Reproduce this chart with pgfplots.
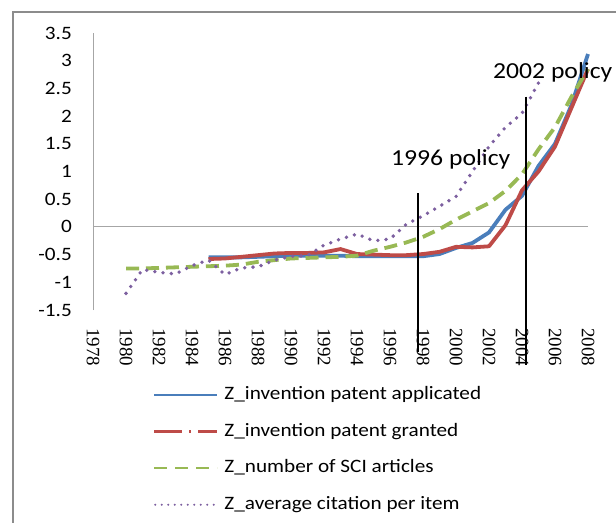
\documentclass[border=0pt]{standalone}
\usepackage{fontspec}
\setmainfont{Carlito}[FakeStretch=1.12]
\newfontfamily\serifx{Liberation Serif}
\usepackage{pgfplots}
\usepackage{pgfplotstable}
\pgfplotsset{compat=1.18}
\definecolor{cblue}{HTML}{4A7EBB}
\definecolor{cred}{HTML}{BE4B48}
\definecolor{cgreen}{HTML}{98B954}
\definecolor{cpurple}{HTML}{7D60A0}

\pgfplotstableread{
year val
1985 -0.55
1986 -0.55
1987 -0.55
1988 -0.54
1989 -0.53
1990 -0.52
1991 -0.52
1992 -0.52
1993 -0.52
1994 -0.53
1995 -0.53
1996 -0.53
1997 -0.53
1998 -0.53
1999 -0.49
2000 -0.38
2001 -0.29
2002 -0.10
2003 0.31
2004 0.56
2005 1.10
2006 1.50
2007 2.20
2008 3.12
}\applied

\pgfplotstableread{
year val
1985 -0.58
1986 -0.57
1987 -0.54
1988 -0.51
1989 -0.48
1990 -0.47
1991 -0.47
1992 -0.46
1993 -0.40
1994 -0.49
1995 -0.50
1996 -0.51
1997 -0.51
1998 -0.49
1999 -0.45
2000 -0.36
2001 -0.37
2002 -0.35
2003 0.03
2004 0.66
2005 1.00
2006 1.45
2007 2.15
2008 2.85
}\granted

\pgfplotstableread{
year val
1980 -0.75
1981 -0.75
1982 -0.74
1983 -0.73
1984 -0.72
1985 -0.71
1986 -0.70
1987 -0.68
1988 -0.63
1989 -0.60
1990 -0.57
1991 -0.56
1992 -0.55
1993 -0.54
1994 -0.52
1995 -0.43
1996 -0.36
1997 -0.28
1998 -0.18
1999 -0.04
2000 0.13
2001 0.28
2002 0.43
2003 0.65
2004 0.95
2005 1.40
2006 1.80
2007 2.35
2008 2.85
}\sci

\pgfplotstableread{
year val
1980 -1.20
1981 -0.77
1982 -0.82
1983 -0.85
1984 -0.70
1985 -0.60
1986 -0.86
1987 -0.74
1988 -0.72
1989 -0.60
1990 -0.53
1991 -0.52
1992 -0.33
1993 -0.22
1994 -0.13
1995 -0.25
1996 -0.22
1997 0.05
1998 0.20
1999 0.37
2000 0.55
2001 1.00
2002 1.45
2003 1.80
2004 2.05
2005 2.60
}\citation

\begin{document}
\begin{tikzpicture}
\path[use as bounding box] (0bp,0bp) rectangle (616bp,523bp);
\fill[white] (0bp,0bp) rectangle (616bp,523bp);
\draw[draw=black!45, line width=2bp] (13bp,0bp) -- (13bp,511bp) -- (617bp,511bp);
\begin{axis}[
  at={(93bp,213bp)}, anchor=south west,
  scale only axis, width=495bp, height=277bp,
  xmin=1978, xmax=2008, ymin=-1.5, ymax=3.5,
  clip=false,
  axis x line=bottom, axis y line=left,
  x axis line style={draw=none},
  y axis line style={draw=black!35, line width=1bp, -},
  major tick length=0pt,
  xtick={1978,1980,1982,1984,1986,1988,1990,1992,1994,1996,1998,2000,2002,2004,2006,2008},
  xticklabels={1978,1980,1982,1984,1986,1988,1990,1992,1994,1996,1998,2000,2002,2004,2006,2008},
  xticklabel style={font=\serifx\fontsize{19}{19}\selectfont, rotate=-90, anchor=west, inner sep=0pt},
  xticklabel shift=18bp,
  ytick={-1.5,-1,-0.5,0,0.5,1,1.5,2,2.5,3,3.5},
  yticklabels={-1.5,-1,-0.5,0,0.5,1,1.5,2,2.5,3,3.5},
  yticklabel style={font=\fontsize{19}{19}\selectfont, anchor=east, inner sep=0pt},
  yticklabel shift=21bp,
  legend cell align=left,
  legend style={at={(0.1212,-0.276)}, anchor=north west, draw=none, fill=none,
    inner sep=0pt, outer sep=0pt, row sep=19.6bp,
    nodes={inner sep=0pt, text height=13bp, text depth=4bp, font=\fontsize{19}{19}\selectfont},
    /tikz/every odd column/.append style={column sep=6bp}},
]
\draw[black!35, line width=1bp] (axis cs:1978,0) -- (axis cs:2008,0);

\addplot[draw=cblue, line width=3.8bp, line join=round,
  legend image code/.code={\draw[cblue, line width=2.5bp] (0bp,0bp) -- (63bp,0bp);}]
  table[x=year, y=val] {\applied};
\addlegendentry{Z\_invention patent applicated}

\addplot[draw=cred, line width=3.8bp, line join=round,
  legend image code/.code={\draw[cred, line width=2.5bp, dash pattern=on 28bp off 7bp on 2bp off 7bp] (0bp,0bp) -- (63bp,0bp);}]
  table[x=year, y=val] {\granted};
\addlegendentry{Z\_invention patent granted}

\addplot[draw=cgreen, line width=3.8bp, dash pattern=on 13bp off 7bp,
  legend image code/.code={\draw[cgreen, line width=2.5bp, dash pattern=on 13bp off 8bp] (0bp,0bp) -- (63bp,0bp);}]
  table[x=year, y=val] {\sci};
\addlegendentry{Z\_number of SCI articles}

\addplot[draw=cpurple, line width=3.8bp, line cap=round, dash pattern=on 0bp off 8.3bp,
  legend image code/.code={\draw[cpurple, line width=2.2bp, line cap=round, dash pattern=on 0bp off 6.5bp] (1bp,0bp) -- (60bp,0bp);}]
  table[x=year, y=val] {\citation};
\addlegendentry{Z\_average citation per item}

\draw[black, line width=2bp] (axis cs:1997.7,0.61) -- (axis cs:1997.7,-2.26);
\draw[black, line width=2bp] (axis cs:2004.24,2.35) -- (axis cs:2004.24,-2.49);
\node[anchor=base west, inner sep=0pt, font=\fontsize{23}{23}\selectfont] at (axis cs:1996.06,1.10) {1996 policy};
\node[anchor=base west, inner sep=0pt, font=\fontsize{23}{23}\selectfont] at (axis cs:2002.24,2.67) {2002 policy};
\end{axis}
\end{tikzpicture}
\end{document}
